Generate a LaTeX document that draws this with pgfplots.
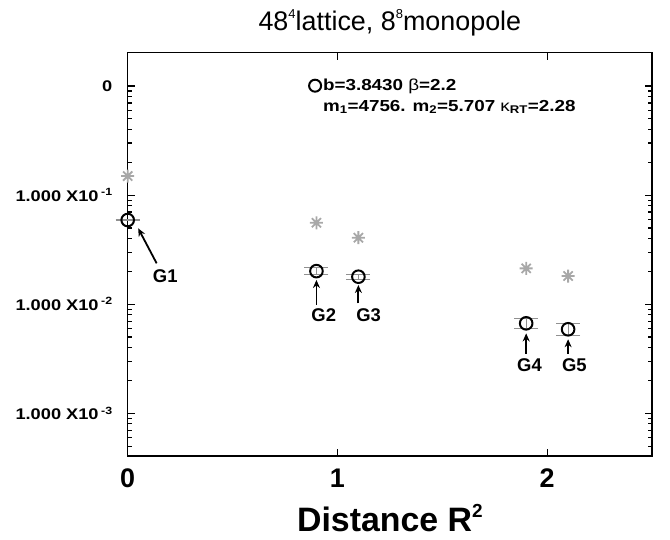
\documentclass[border=0pt]{standalone}
\usepackage{fontspec}
\setmainfont{Liberation Sans}
\newfontfamily\widefont[FakeStretch=1.18]{Liberation Sans}
\usepackage{pgfplots}
\pgfplotsset{compat=1.18}
\usetikzlibrary{arrows.meta}
\pgfdeclareplotmark{star8}{%
  \pgfpathmoveto{\pgfqpoint{-\pgfplotmarksize}{0pt}}\pgfpathlineto{\pgfqpoint{\pgfplotmarksize}{0pt}}%
  \pgfpathmoveto{\pgfqpoint{0pt}{-\pgfplotmarksize}}\pgfpathlineto{\pgfqpoint{0pt}{\pgfplotmarksize}}%
  \pgfpathmoveto{\pgfqpoint{-0.7071\pgfplotmarksize}{-0.7071\pgfplotmarksize}}\pgfpathlineto{\pgfqpoint{0.7071\pgfplotmarksize}{0.7071\pgfplotmarksize}}%
  \pgfpathmoveto{\pgfqpoint{-0.7071\pgfplotmarksize}{0.7071\pgfplotmarksize}}\pgfpathlineto{\pgfqpoint{0.7071\pgfplotmarksize}{-0.7071\pgfplotmarksize}}%
  \pgfusepathqstroke}
\pgfplotsset{circlegend/.style={legend image code/.code={\draw[##1] plot coordinates {(0bp,0bp)};}}}
\newcommand{\sups}[1]{\raisebox{0.85ex}{\fontsize{13}{13}\selectfont #1}}
\newcommand{\xsup}[1]{\raisebox{0.75ex}{\fontsize{19}{19}\selectfont #1}}
\newcommand{\ysup}[1]{\,\raisebox{0.7ex}{\fontsize{10.5}{11}\selectfont #1}}
\definecolor{stargray}{HTML}{A8A8A8}
\definecolor{errgray}{HTML}{909090}
\pgfplotstableread{
x    y        ep       em
0    0.0591   0.0012   0.0011
0.9  0.0201   0.00145  0.0014
1.1  0.01787  0.0009   0.00085
1.9  0.00668  0.00075  0.00068
2.1  0.00589  0.0008   0.0007
}\circdata
\pgfplotstableread{
x    y
0    0.1496
0.9  0.0558
1.1  0.0407
1.9  0.0213
2.1  0.01813
}\stardata
\begin{document}
\begin{tikzpicture}
\useasboundingbox (0,0) rectangle (670bp,540bp);
\begin{axis}[
  at={(127.7bp,84bp)}, anchor=south west,
  scale only axis, width=524.3bp, height=403.3bp,
  xmin=0, xmax=2.5, ymode=log, ymin=4.06e-4, ymax=2.02,
  xtick={0,1,2}, xticklabels={0,1,2},
  ytick={0.001,0.01,0.1,1},
  yticklabels={{1.000 X10\ysup{-3}},{1.000 X10\ysup{-2}},{1.000 X10\ysup{-1}},0},
  minor ytick={0.0005,0.0006,0.0007,0.0008,0.0009,0.002,0.003,0.004,0.005,0.006,0.007,0.008,0.009,0.02,0.03,0.04,0.05,0.06,0.07,0.08,0.09,0.2,0.3,0.4,0.5,0.6,0.7,0.8,0.9},
  tick align=inside, major tick length=7bp, minor tick length=4.5bp,
  axis line style={line width=1.5bp},
  tick style={black, line width=1.2bp},
  /pgf/number format/assume math mode=true,
  xticklabel style={font=\fontsize{27}{30}\selectfont\bfseries, yshift=-9bp},
  yticklabel style={font=\widefont\fontsize{15.5}{17}\selectfont\bfseries, xshift=-12bp},
  xlabel={Distance R\xsup{2}},
  xlabel style={font=\fontsize{34}{36}\selectfont\bfseries, yshift=-10bp},
  title={48\sups{4}lattice, 8\sups{8}monopole},
  title style={font=\fontsize{27}{30}\selectfont, yshift=7bp},
  clip=false,
  legend style={at={(axis cs:0.864,1.21)}, anchor=north west, draw=none, fill=none,
    inner sep=0pt, row sep=4bp,
    font=\widefont\fontsize{16}{18}\selectfont\bfseries,
    /tikz/every even column/.append style={column sep=6bp}},
  legend cell align=left,
]
\addplot[only marks, mark=star8, mark size=6.5bp, color=stargray, line width=1.8bp, forget plot]
  table[x=x,y=y] {\stardata};
\addplot[forget plot, only marks, mark=o, mark size=6.3bp, black, line width=2bp,
  mark options={fill=white, solid},
  error bars/.cd, y dir=both, y explicit,
  error bar style={errgray, line width=1bp},
  error mark options={rotate=90, errgray, line width=1bp, mark size=12bp}]
  table[x=x,y=y,y error plus=ep,y error minus=em] {\circdata};
\addlegendimage{only marks, mark=o, mark size=6bp, black, line width=2bp, mark options={fill=white}, circlegend}
\addlegendentry{b=3.8430 {\mdseries β}=2.2}
\addlegendimage{empty legend}
\addlegendentry{m\textsubscript{1}=4756. m\textsubscript{2}=5.707 {\mdseries κ}\textsubscript{RT}=2.28}
% annotations
\draw[-{Stealth[length=8bp,width=7bp]}, line width=1.8bp] (axis cs:0.138,0.0237) -- (axis cs:0.05,0.0496);
\draw[-{Stealth[length=8bp,width=7bp]}, line width=1.8bp] (axis cs:0.9,0.00984) -- (axis cs:0.9,0.01667);
\draw[-{Stealth[length=8bp,width=7bp]}, line width=1.8bp] (axis cs:1.1,0.0102) -- (axis cs:1.1,0.015);
\draw[-{Stealth[length=8bp,width=7bp]}, line width=1.8bp] (axis cs:1.9,0.0035) -- (axis cs:1.9,0.0054);
\draw[-{Stealth[length=8bp,width=7bp]}, line width=1.8bp] (axis cs:2.1,0.0035) -- (axis cs:2.1,0.00477);
\begin{scope}[every node/.style={font=\fontsize{18.5}{20}\selectfont\bfseries, inner sep=0pt}]
\node at (axis cs:0.179,0.01815) {G1};
\node at (axis cs:0.935,0.00796) {G2};
\node at (axis cs:1.149,0.00796) {G3};
\node at (axis cs:1.916,0.00277) {G4};
\node at (axis cs:2.130,0.00277) {G5};
\end{scope}
\end{axis}
\end{tikzpicture}
\end{document}
